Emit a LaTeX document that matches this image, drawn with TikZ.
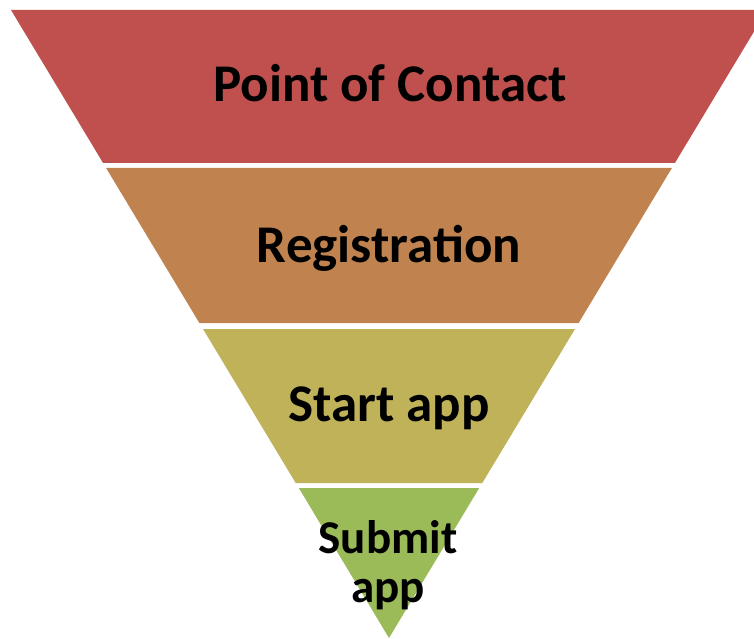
\documentclass[tikz,border=0pt]{standalone}
\usepackage{fontspec}
\setmainfont{Carlito}
\definecolor{cRed}{HTML}{C0504D}
\definecolor{cBrown}{HTML}{C0834F}
\definecolor{cOlive}{HTML}{BFB259}
\definecolor{cGreen}{HTML}{9BBB59}
\tikzset{
  band/.style={draw=none},
  lbl/.style={font=\bfseries\fontsize{53}{52}\selectfont, text=black, anchor=base, inner sep=0pt, align=center},
  smalllbl/.style={lbl, font=\bfseries\fontsize{47}{49}\selectfont}
}
\begin{document}
\begin{tikzpicture}[x=1pt,y=-1pt]
\useasboundingbox (0,0) rectangle (754,639);
\clip (0,0) rectangle (754,639);
\fill[band, cRed]   (11,10) -- (767,10) -- (674.9,163) -- (103.1,163) -- cycle;
\fill[band, cBrown] (106.1,168) -- (671.9,168) -- (578.6,323) -- (199.4,323) -- cycle;
\fill[band, cOlive] (203.0,329) -- (575.0,329) -- (482.3,483) -- (295.7,483) -- cycle;
\fill[band, cGreen] (298.8,488) -- (479.2,488) -- (389,638) -- cycle;
\node[lbl] (poc) at (390,102) {Point of Contact};
\node[lbl] (reg) at (389,262) {Registration};
\node[lbl] (start) at (389,421) {Start app};
\node[smalllbl] (sub1) at (388,553) {Submit};
\node[smalllbl] (sub2) at (388,602) {app};
\end{tikzpicture}
\end{document}
